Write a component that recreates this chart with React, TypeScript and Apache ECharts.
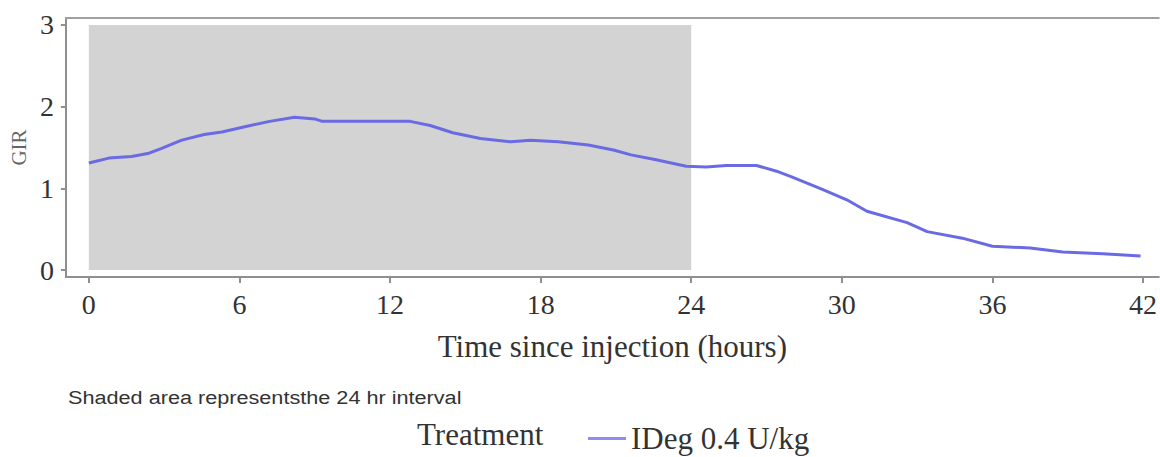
import React, { useEffect, useRef } from "react";
import * as echarts from "echarts";

const hours = [0, 0.8, 1.7, 2.4, 2.9, 3.7, 4.6, 5.3, 6.3, 7.2, 8.2, 9.0, 9.3, 11.6, 12.8, 13.6, 14.5, 15.6, 16.8, 17.6, 18.7, 19.9, 20.9, 21.6, 22.6, 23.8, 24.6, 25.4, 26.6, 27.4, 28.0, 29.2, 30.2, 31.0, 32.6, 33.4, 34.8, 36.0, 37.5, 38.8, 40.4, 41.9];
const gir = [1.31, 1.37, 1.39, 1.43, 1.49, 1.59, 1.66, 1.69, 1.76, 1.82, 1.87, 1.85, 1.82, 1.82, 1.82, 1.77, 1.68, 1.61, 1.57, 1.59, 1.57, 1.53, 1.47, 1.41, 1.35, 1.27, 1.26, 1.28, 1.28, 1.21, 1.14, 0.99, 0.86, 0.72, 0.58, 0.47, 0.39, 0.29, 0.27, 0.22, 0.2, 0.17];
const xTicks = [0, 6, 12, 18, 24, 30, 36, 42];
const yTicks = [0, 1, 2, 3];
const shadeStart = 0;
const shadeEnd = 24;
const shadeTop = 3;
const seriesName = "IDeg 0.4 U/kg";

export default function App() {
  const ref = useRef<HTMLDivElement>(null);
  useEffect(() => {
    if (!ref.current) return;
    const chart = echarts.init(ref.current, null, { renderer: "svg" });
    const serif = "Liberation Serif";
    const frame = { color: "#8f8f8f", width: 2 };
    const xMin = -0.914;
    const xMax = 42.63;
    chart.setOption({
      animation: false,
      backgroundColor: "#ffffff",
      grid: {
        left: 64,
        top: 18,
        bottom: 180,
        right: 0,
        show: false,
      },
      xAxis: [
        {
          type: "value",
          min: xMin,
          max: xMax,
          name: "Time since injection (hours)",
          nameLocation: "middle",
          nameGap: 54,
          nameTextStyle: { fontFamily: serif, fontSize: 31, color: "#333" },
          axisLine: { show: true, onZero: false, lineStyle: frame },
          axisTick: { show: true, customValues: xTicks, length: 6, lineStyle: frame },
          axisLabel: { customValues: xTicks, fontFamily: serif, fontSize: 28, color: "#333", margin: 13 },
          splitLine: { show: false },
        },
        {
          type: "value",
          position: "top",
          min: xMin,
          max: xMax,
          axisLine: { show: true, onZero: false, lineStyle: { color: "#a0a0a0", width: 2 } },
          axisTick: { show: false },
          axisLabel: { show: false },
          splitLine: { show: false },
        },
      ],
      yAxis: {
        type: "value",
        min: -0.0857,
        max: 3.0857,
        name: "GIR",
        nameLocation: "middle",
        nameGap: 32,
        nameRotate: 90,
        nameTextStyle: { fontFamily: serif, fontSize: 21, color: "#666" },
        axisLine: { show: true, onZero: false, lineStyle: frame },
        axisTick: { show: true, customValues: yTicks, length: 5, lineStyle: frame },
        axisLabel: { customValues: yTicks, fontFamily: serif, fontSize: 28, color: "#333", margin: 12 },
        splitLine: { show: false },
      },
      legend: {
        data: [seriesName],
        left: 583,
        top: 418,
        icon: "rect",
        itemWidth: 38,
        itemHeight: 3,
        textStyle: { fontFamily: serif, fontSize: 31, color: "#333" },
      },
      graphic: [
        {
          type: "text",
          left: 417,
          top: 419,
          style: { text: "Treatment", font: `31px ${serif}`, fill: "#333" },
        },
        {
          type: "text",
          x: 68,
          y: 388,
          scaleX: 1.14,
          style: { text: "Shaded area representsthe 24 hr interval", font: "19px 'Liberation Sans'", fill: "#333" },
        },
      ],
      series: [
        {
          type: "line",
          name: "shade",
          data: [],
          z: 1,
          silent: true,
          markArea: {
            silent: true,
            itemStyle: { color: "#d3d3d3" },
            data: [[{ xAxis: shadeStart, yAxis: 0 }, { xAxis: shadeEnd, yAxis: shadeTop }]],
          },
        },
        {
          type: "line",
          name: seriesName,
          z: 3,
          data: hours.map((h, i) => [h, gir[i]]),
          showSymbol: false,
          symbol: "none",
          lineStyle: { color: "#6a6ae4", width: 3 },
          itemStyle: { color: "#8c8cf2" },
        },
      ],
    });
    return () => chart.dispose();
  }, []);
  return <div ref={ref} style={{ width: 1160, height: 457, position: "absolute", left: 0, top: 0 }} />;
}
